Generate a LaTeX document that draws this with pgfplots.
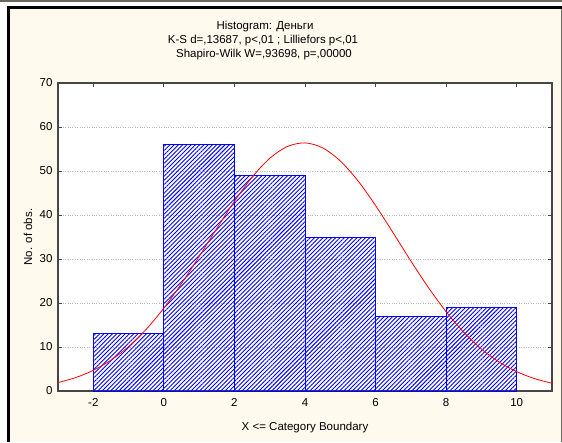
\documentclass[border=0pt]{standalone}
\usepackage{fontspec}
\setmainfont{Liberation Sans}
\usepackage{pgfplots}
\pgfplotsset{compat=1.18}
\usetikzlibrary{patterns.meta}
\definecolor{panel}{RGB}{255,249,238}
\definecolor{framegray}{RGB}{110,105,95}
\definecolor{axisgray}{RGB}{70,70,70}

\begin{document}
\begin{tikzpicture}[x=1pt,y=1pt,font=\fontsize{11.5}{13}\selectfont]
% page and panel frame
\useasboundingbox (0,0) rectangle (562,442);
\fill[white] (0,0) rectangle (562,442);
\fill[panel] (9,0) rectangle (561,433);
\draw[framegray, line width=2pt] (0,441) -- (562,441);
\draw[black, line width=3pt] (8,0) -- (8,434.5) -- (562,434.5);
\draw[framegray, line width=1pt] (561.5,0) -- (561.5,433);

% titles
\node at (265,415) {Histogram: Деньги};
\node at (263,401) {K-S d=,13687, p<,01 ; Lilliefors p<,01};
\node at (264,387) {Shapiro-Wilk W=,93698, p=,00000};

\begin{axis}[
    at={(58pt,51pt)}, anchor=south west,
    scale only axis, width=494pt, height=308pt,
    xmin=-3, xmax=11, ymin=0, ymax=70,
    xtick={-2,0,...,10}, ytick={0,10,...,70},
    tick pos=both, tick align=inside,
    major tick length=4pt,
    tick style={axisgray, line width=0.8pt},
    axis line style={axisgray, line width=1.2pt},
    axis background/.style={fill=white},
    ymajorgrids,
    major grid style={dotted, gray!55, line width=0.6pt},
    /pgf/number format/assume math mode=true,
    ticklabel style={font=\fontsize{11.5}{13}\selectfont},
    xticklabel style={yshift=-4pt},
    yticklabel style={xshift=-2pt},
    xlabel={X <= Category Boundary},
    ylabel={No. of obs.},
    xlabel style={at={(rel axis cs:0.5,0)}, anchor=center, yshift=-37pt},
    ylabel style={at={(rel axis cs:0,0.5)}, anchor=center, yshift=30pt},
]
\addplot[ybar interval, draw=blue, line width=1pt,
    pattern={Lines[angle=45, distance=3pt, line width=0.9pt]},
    pattern color=blue]
    coordinates {(-2,13) (0,56) (2,49) (4,35) (6,17) (8,19) (10,19)};

\addplot[red, line width=0.8pt, smooth] coordinates {
    (-3,1.91) (-2.5,3.05) (-2,4.70) (-1.5,7.01) (-1,10.10) (-0.5,14.03)
    (0,18.84) (0.5,24.42) (1,30.56) (1.5,36.94) (2,43.11) (2.5,48.59)
    (3,52.88) (3.5,55.57) (4,56.39) (4.5,55.26) (5,52.29) (5.5,47.78)
    (6,42.16) (6.5,35.92) (7,29.55) (7.5,23.48) (8,18.01) (8.5,13.35)
    (9,9.55) (9.5,6.59) (10,4.40) (10.5,2.83) (11,1.76)
};
\end{axis}
\end{tikzpicture}
\end{document}
